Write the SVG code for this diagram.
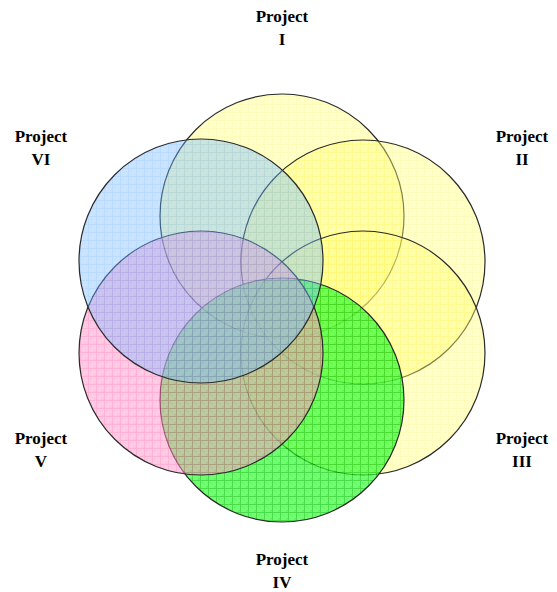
<svg xmlns="http://www.w3.org/2000/svg" width="557" height="592" viewBox="0 0 557 592">
<defs>
<pattern id="pY" width="8" height="8" patternUnits="userSpaceOnUse">
<rect width="8" height="8" fill="#FFFF80"/>
<rect x="2" y="2" width="2" height="2" fill="#FFFF55" opacity="0.4"/>
<rect x="6" y="6" width="2" height="2" fill="#FFFF55" opacity="0.4"/>
<path d="M0 0.5H8M0.5 0V8" stroke="#FFEE33" stroke-width="1" opacity="0.5"/>
</pattern>
<pattern id="pB" width="8" height="8" patternUnits="userSpaceOnUse">
<rect width="8" height="8" fill="#80BFFF"/>
<rect x="2" y="2" width="2" height="2" fill="#66AAFF" opacity="0.4"/>
<rect x="6" y="6" width="2" height="2" fill="#66AAFF" opacity="0.4"/>
<path d="M0 0.5H8M0.5 0V8" stroke="#3399FF" stroke-width="1" opacity="0.55"/>
</pattern>
<pattern id="pP" width="8" height="8" patternUnits="userSpaceOnUse">
<rect width="8" height="8" fill="#FF99CC"/>
<rect x="2" y="2" width="2" height="2" fill="#FF77BB" opacity="0.4"/>
<rect x="6" y="6" width="2" height="2" fill="#FF77BB" opacity="0.4"/>
<path d="M0 0.5H8M0.5 0V8" stroke="#FF4499" stroke-width="1" opacity="0.55"/>
</pattern>
<pattern id="pG" width="8" height="8" patternUnits="userSpaceOnUse">
<rect width="8" height="8" fill="#33FF33"/>
<rect x="2" y="2" width="2" height="2" fill="#00EE00" opacity="0.5"/>
<rect x="6" y="6" width="2" height="2" fill="#00EE00" opacity="0.5"/>
<path d="M0 0.5H8M0.5 0V8" stroke="#00CC00" stroke-width="1"/>
</pattern>
</defs>
<style>
.c{stroke:#2a2a2a;stroke-width:1.2;fill-opacity:0.42}
.g{fill-opacity:0.7}
.p{fill-opacity:0.52}
.t{font-family:"Liberation Serif","Times New Roman",serif;font-weight:bold;font-size:17px;fill:#000;text-anchor:middle}
</style>
<g id="circle-I"><circle class="c" cx="282" cy="216" r="122" fill="url(#pY)"/></g>
<g id="circle-II"><circle class="c" cx="363" cy="262" r="122" fill="url(#pY)"/></g>
<g id="circle-III"><circle class="c" cx="363" cy="353" r="122" fill="url(#pY)"/></g>
<g id="circle-IV"><circle class="c g" cx="282" cy="400" r="122" fill="url(#pG)"/></g>
<g id="circle-V"><circle class="c p" cx="201" cy="353" r="122" fill="url(#pP)"/></g>
<g id="circle-VI"><circle class="c" cx="201" cy="261" r="122" fill="url(#pB)"/></g>
<g id="label-I"><text class="t" x="282" y="22">Project</text><text class="t" x="282" y="45">I</text></g>
<g id="label-II"><text class="t" x="522" y="142">Project</text><text class="t" x="522" y="165">II</text></g>
<g id="label-III"><text class="t" x="522" y="444">Project</text><text class="t" x="522" y="467">III</text></g>
<g id="label-IV"><text class="t" x="282" y="565">Project</text><text class="t" x="282" y="588">IV</text></g>
<g id="label-V"><text class="t" x="41" y="444">Project</text><text class="t" x="41" y="467">V</text></g>
<g id="label-VI"><text class="t" x="41" y="142">Project</text><text class="t" x="41" y="165">VI</text></g>
<g id="connectors"/>
</svg>
